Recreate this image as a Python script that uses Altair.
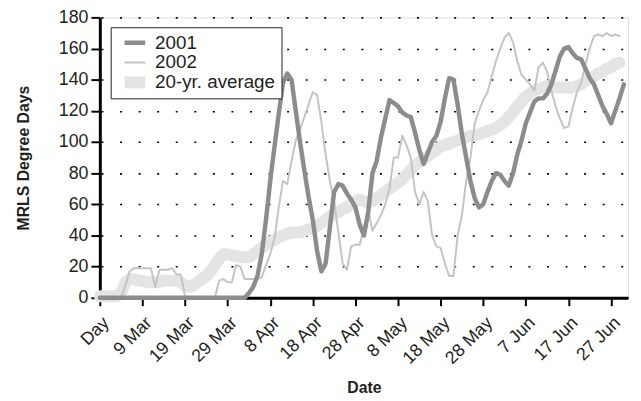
import altair as alt
import pandas as pd

# Day index 0 = "Day" tick (27 Feb); ticks every 10 days
tick_values = [0, 10, 20, 30, 40, 50, 60, 70, 80, 90, 100, 110, 120]
tick_labels = ["Day", "9 Mar", "19 Mar", "29 Mar", "8 Apr", "18 Apr", "28 Apr",
               "8 May", "18 May", "28 May", "7 Jun", "17 Jun", "27 Jun"]

series_names = ["2001", "2002", "20-yr. average"]

y2001 = [0, 0, 0, 0, 0, 0, 0, 0, 0, 0,
         0, 0, 0, 0, 0, 0, 0, 0, 0, 0,
         0, 0, 0, 0, 0, 0, 0, 0, 0, 0,
         0, 0, 0, 0, 0, 3, 7, 14, 28, 50,
         75, 97, 118, 138, 144, 140, 120, 100, 82, 65,
         50, 30, 17, 22, 45, 68, 73, 72, 67, 63,
         58, 47, 40, 55, 80, 88, 103, 115, 127, 125,
         123, 119, 117, 116, 106, 95, 86, 93, 100, 104,
         113, 128, 141, 140, 124, 105, 90, 75, 64, 58,
         60, 68, 75, 80, 79, 75, 72, 80, 92, 101,
         112, 119, 126, 128, 128, 131, 137, 146, 155, 160,
         161, 157, 154, 153, 147, 141, 137, 130, 123, 118,
         112, 120, 128, 137]

y2002 = [0, 0, 0, 0, 0, 0, 8, 17, 19, 19,
         19, 19, 19, 7, 18, 18, 18, 19, 15, 15,
         1, 0, 0, 0, 0, 0, 0, 0, 11, 12,
         10, 10, 21, 20, 12, 12, 12, 12, 13, 21,
         28, 38, 58, 75, 73, 88, 101, 108, 116, 124,
         132, 130, 113, 92, 75, 62, 42, 22, 18, 33,
         34, 34, 45, 57, 43, 48, 53, 60, 70, 90,
         90, 104, 98, 90, 68, 60, 68, 62, 40, 33,
         32, 22, 14, 14, 40, 53, 75, 90, 112, 120,
         127, 132, 142, 152, 160, 167, 170, 164, 152, 143,
         140, 137, 133, 148, 151, 145, 133, 123, 115, 109,
         110, 122, 132, 138, 150, 160, 168, 169, 168, 170,
         168, 169, 168]

yavg = [1, 1, 1, 1, 1, 3, 10, 12, 12, 11,
        11, 10, 10, 10, 10, 11, 11, 11, 11, 10,
        8, 7, 8, 10, 12, 14, 17, 21, 25, 28,
        28, 27, 27, 26, 26, 26, 28, 30, 32, 34,
        36, 37, 39, 40, 41, 42, 42, 42, 43, 44,
        45, 46, 48, 50, 52, 54, 55, 57, 58, 60,
        62, 63, 62, 61, 62, 64, 66, 68, 70, 72,
        74, 76, 79, 82, 85, 87, 89, 91, 93, 95,
        97, 98, 99, 100, 101, 102, 103, 104, 104, 105,
        106, 107, 108, 109, 111, 113, 116, 119, 123, 126,
        129, 131, 133, 134, 135, 136, 135, 135, 135, 135,
        135, 135, 136, 137, 139, 141, 142, 144, 145, 147,
        148, 150, 151]

rows = []
for name, vals in zip(series_names, [y2001, y2002, yavg]):
    for d, v in enumerate(vals):
        rows.append({"day": d, "value": v, "series": name})
df = pd.DataFrame(rows)

label_expr = "[" + ",".join('"%s"' % t for t in tick_labels) + "][round(datum.value/10)]"

FONT = "Liberation Sans"
INK = "#231f20"

color_scale = alt.Scale(domain=series_names, range=["#8c8c8c", "#c4c4c4", "#e4e4e4"])
width_scale = alt.Scale(type="ordinal", domain=series_names, range=[4.5, 2, 12])

x_enc = alt.X("day:Q", scale=alt.Scale(domain=[0, 124], nice=False, zero=False),
              axis=alt.Axis(values=tick_values, labelExpr=label_expr, title="Date",
                            labelAngle=-45, labelOverlap=False, grid=False,
                            labelFontSize=18, titleFontSize=16, titleFontWeight="bold",
                            titlePadding=12, tickSize=8, tickWidth=2, tickColor="black",
                            domainColor="black", domainWidth=3, labelColor=INK,
                            titleColor=INK, labelPadding=8, labelFont=FONT,
                            titleFont=FONT))
y_enc = alt.Y("value:Q", scale=alt.Scale(domain=[0, 180], nice=False),
              axis=alt.Axis(values=list(range(0, 181, 20)), title="MRLS Degree Days",
                            labelFontSize=18, titleFontSize=16, titleFontWeight="bold",
                            titlePadding=27, tickSize=9, tickWidth=2, tickColor="black",
                            domainColor="black", domainWidth=3, grid=True,
                            gridColor="black", gridDash=[2, 16.8], gridDashOffset=17.6,
                            gridWidth=1.6, labelColor=INK, titleColor=INK,
                            labelPadding=3, labelFont=FONT, titleFont=FONT))

legend = alt.Legend(orient="none", legendX=11, legendY=10, title=None,
                    strokeColor=INK, fillColor="white", padding=6,
                    symbolType="stroke", symbolSize=440, labelFontSize=19,
                    labelFont=FONT, labelColor=INK, labelOffset=4,
                    rowPadding=0, symbolOffset=2, clipHeight=19.5)

base = alt.Chart(df).mark_line(strokeJoin="round", strokeCap="round").encode(
    x=x_enc,
    y=y_enc,
    color=alt.Color("series:N", scale=color_scale, legend=legend, sort=series_names),
    strokeWidth=alt.StrokeWidth("series:N", scale=width_scale, legend=legend,
                                sort=series_names),
    detail="series:N",
)

layers = [base.transform_filter(alt.datum.series == s) for s in ["20-yr. average", "2002", "2001"]]

chart = alt.layer(*layers).properties(
    width=535, height=284, autosize="none",
    padding={"left": 93, "top": 7, "right": 5, "bottom": 100},
).configure_view(stroke=INK, strokeWidth=2.5).configure(background="white")

chart.save("out.html", embed_options={"renderer": "svg", "actions": False})
